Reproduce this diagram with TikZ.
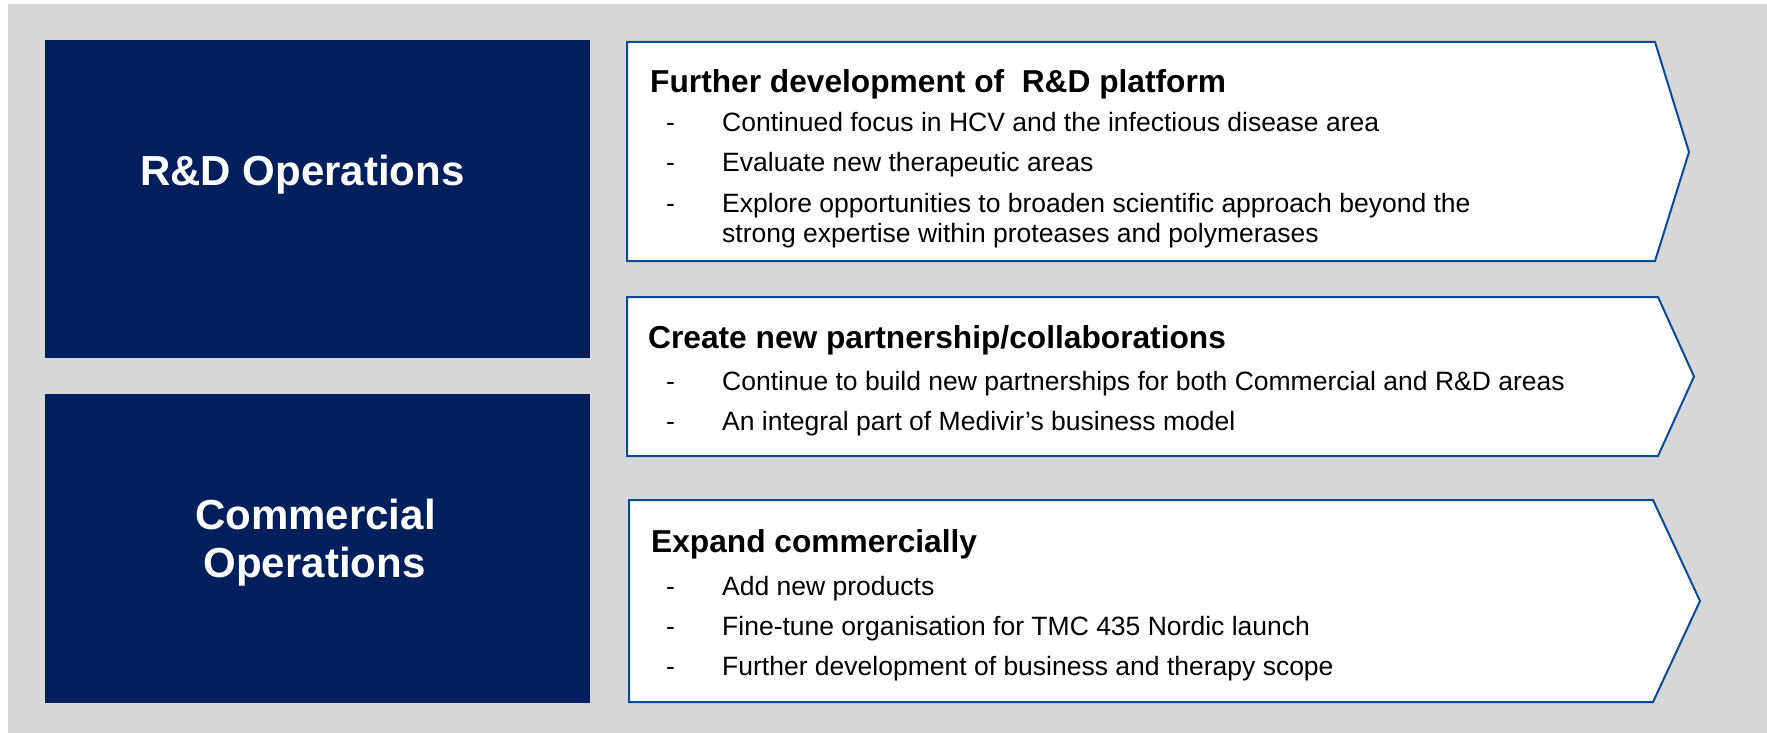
\documentclass[tikz,border=0pt]{standalone}
\usepackage{fontspec}
\setmainfont{Liberation Sans}
\definecolor{navy}{HTML}{001F5C}
\definecolor{panelblue}{HTML}{0B4A94}
\definecolor{backgray}{HTML}{D7D7D7}
\begin{document}
\begin{tikzpicture}[x=1bp,y=-1bp,
  sidebox/.style={fill=navy, draw=none, inner sep=0, anchor=north west},
  sidelabel/.style={text=white, font=\bfseries\fontsize{42bp}{50bp}\selectfont, anchor=base, inner sep=0},
  panel/.style={draw=panelblue, fill=white, line width=2bp, line join=miter},
  heading/.style={font=\bfseries\fontsize{31.7bp}{36bp}\selectfont, anchor=base west, inner sep=0},
  dashmark/.style={font=\fontsize{26.5bp}{30bp}\selectfont, anchor=base west, inner sep=0},
  item/.style={font=\fontsize{26.5bp}{30bp}\selectfont, anchor=base west, inner sep=0},
]
\useasboundingbox (0,0) rectangle (1767,733);
% backdrop
\fill[backgray] (8,4) rectangle (1767,733);

% left column: operation areas
\node[sidebox, minimum width=545bp, minimum height=318bp] (rdbox) at (45,40) {};
\node[sidebox, minimum width=545bp, minimum height=309bp] (commbox) at (45,394) {};
\node[sidelabel] (rdlabel) at (302.5,185) {R\&D Operations};
\node[sidelabel] (commlabelA) at (315.5,529) {Commercial};
\node[sidelabel] (commlabelB) at (314.5,577) {Operations};

% right column: chevron panels
\draw[panel] (627,42) -- (1655,42) -- (1689,152) -- (1655,261) -- (627,261) -- cycle;
\draw[panel] (627,297) -- (1658,297) -- (1694,376.5) -- (1658,456) -- (627,456) -- cycle;
\draw[panel] (629,500) -- (1653,500) -- (1700,601) -- (1653,702) -- (629,702) -- cycle;

% panel 1
\node[heading] (headA) at (650,93) {Further development of\ \ R\&D platform};
\node[dashmark] (dA1) at (666,132) {-};
\node[item] (iA1) at (722,132) {Continued focus in HCV and the infectious disease area};
\node[dashmark] (dA2) at (666,172) {-};
\node[item] (iA2) at (722,172) {Evaluate new therapeutic areas};
\node[dashmark] (dA3) at (666,212) {-};
\node[item] (iA3) at (722,212) {Explore opportunities to broaden scientific approach beyond the};
\node[item] (iA3b) at (722,242) {strong expertise within proteases and polymerases};

% panel 2
\node[heading] (headB) at (648,348) {Create new partnership/collaborations};
\node[dashmark] (dB1) at (666,390) {-};
\node[item] (iB1) at (722,390) {Continue to build new partnerships for both Commercial and R\&D areas};
\node[dashmark] (dB2) at (666,430) {-};
\node[item] (iB2) at (722,430) {An integral part of Medivir’s business model};

% panel 3
\node[heading] (headC) at (651,552) {Expand commercially};
\node[dashmark] (dC1) at (666,595) {-};
\node[item] (iC1) at (722,595) {Add new products};
\node[dashmark] (dC2) at (666,635) {-};
\node[item] (iC2) at (722,635) {Fine-tune organisation for TMC 435 Nordic launch};
\node[dashmark] (dC3) at (666,675) {-};
\node[item] (iC3) at (722,675) {Further development of business and therapy scope};
\end{tikzpicture}
\end{document}
